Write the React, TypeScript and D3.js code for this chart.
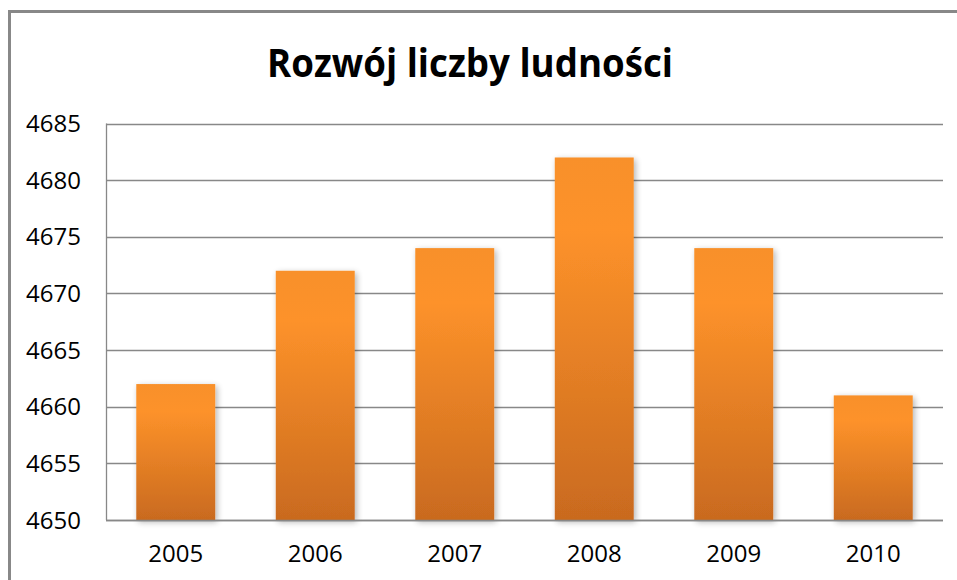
import React, { useEffect, useRef } from "react";
import * as d3 from "d3";

const years = ["2005", "2006", "2007", "2008", "2009", "2010"];
const population = [4662, 4672, 4674, 4682, 4674, 4661];
const yTicks = [4650, 4655, 4660, 4665, 4670, 4675, 4680, 4685];
const title = "Rozwój liczby ludności";

const App = () => {
  const chartRef = useRef<SVGSVGElement>(null);

  useEffect(() => {
    const width = 957;
    const height = 580;
    const m = { top: 123.5, right: 14, bottom: 60, left: 106 };

    const svg = d3.select(chartRef.current);
    svg.selectAll("*").remove();
    svg.attr("width", width).attr("height", height);

    svg.append("rect").attr("width", width).attr("height", height).attr("fill", "#fff");

    const defs = svg.append("defs");
    const grad = defs.append("linearGradient")
      .attr("id", "barGrad")
      .attr("x1", 0).attr("y1", 0).attr("x2", 0).attr("y2", 1);
    grad.append("stop").attr("offset", "0%").attr("stop-color", "#f8902a");
    grad.append("stop").attr("offset", "20%").attr("stop-color", "#fd922a");
    grad.append("stop").attr("offset", "100%").attr("stop-color", "#c96a1f");

    const shadow = defs.append("filter").attr("id", "shadow")
      .attr("x", "-20%").attr("y", "-10%").attr("width", "140%").attr("height", "120%");
    shadow.append("feGaussianBlur").attr("in", "SourceAlpha").attr("stdDeviation", 3);
    shadow.append("feOffset").attr("dx", 2).attr("dy", 2).attr("result", "blur");
    shadow.append("feComponentTransfer").append("feFuncA").attr("type", "linear").attr("slope", 0.3);
    const merge = shadow.append("feMerge");
    merge.append("feMergeNode");
    merge.append("feMergeNode").attr("in", "SourceGraphic");

    // outer frame: top and left only
    svg.append("line").attr("x1", 9.5).attr("x2", width).attr("y1", 11.5).attr("y2", 11.5)
      .attr("stroke", "#888").attr("stroke-width", 3);
    svg.append("line").attr("x1", 9.5).attr("x2", 9.5).attr("y1", 10).attr("y2", height)
      .attr("stroke", "#888").attr("stroke-width", 3);

    svg.append("text")
      .attr("x", 470).attr("y", 77)
      .attr("text-anchor", "middle")
      .attr("font-family", "'Open Sans', sans-serif")
      .attr("font-weight", "bold")
      .attr("font-size", 39)
      .attr("textLength", 406)
      .attr("lengthAdjust", "spacingAndGlyphs")
      .attr("fill", "#000")
      .text(title);

    const x = d3.scaleBand()
      .domain(years)
      .range([m.left, width - m.right])
      .paddingInner(0.434)
      .paddingOuter(0.217);

    const y = d3.scaleLinear()
      .domain([4650, 4685])
      .range([height - m.bottom, m.top]);

    // gridlines
    svg.append("g")
      .selectAll("line")
      .data(yTicks)
      .join("line")
      .attr("x1", m.left).attr("x2", width - m.right)
      .attr("y1", d => Math.round(y(d)) + 0.5).attr("y2", d => Math.round(y(d)) + 0.5)
      .attr("stroke", "#888").attr("stroke-width", 1.3);

    svg.append("line")
      .attr("x1", m.left + 0.5).attr("x2", m.left + 0.5)
      .attr("y1", m.top).attr("y2", height - m.bottom)
      .attr("stroke", "#888").attr("stroke-width", 1.3);

    svg.append("g")
      .selectAll("rect")
      .data(population)
      .join("rect")
      .attr("x", (d, i) => x(years[i]))
      .attr("y", d => y(d))
      .attr("width", x.bandwidth())
      .attr("height", d => y(4650) - y(d))
      .attr("fill", "url(#barGrad)")
      .attr("filter", "url(#shadow)");

    svg.append("line")
      .attr("x1", m.left).attr("x2", width - m.right)
      .attr("y1", height - m.bottom + 0.5).attr("y2", height - m.bottom + 0.5)
      .attr("stroke", "#888").attr("stroke-width", 1.3);

    svg.append("g")
      .selectAll("text")
      .data(yTicks)
      .join("text")
      .attr("x", 81)
      .attr("y", d => y(d) + 8.5)
      .attr("text-anchor", "end")
      .attr("font-family", "'Open Sans', sans-serif")
      .attr("font-size", 24)
      .attr("fill", "#000")
      .text(d => d);

    svg.append("g")
      .selectAll("text")
      .data(years)
      .join("text")
      .attr("x", d => x(d) + x.bandwidth() / 2)
      .attr("y", 562)
      .attr("text-anchor", "middle")
      .attr("font-family", "'Open Sans', sans-serif")
      .attr("font-size", 24)
      .attr("fill", "#000")
      .text(d => d);
  }, []);

  return <svg ref={chartRef} style={{ position: "absolute", left: 0, top: 0 }}></svg>;
};

export default App;
